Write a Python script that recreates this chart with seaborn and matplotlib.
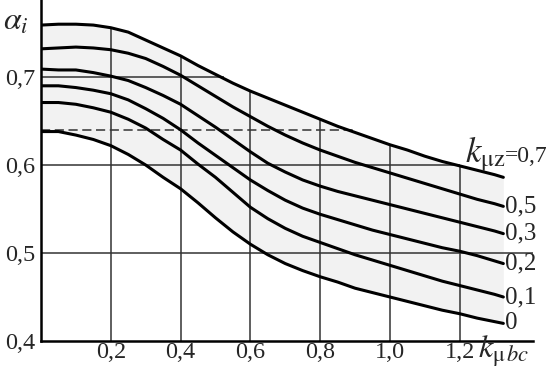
import numpy as np
import pandas as pd
import matplotlib.pyplot as plt
import seaborn as sns

# k_mu_bc values where the curves were read
k_bc = [0, 0.05, 0.1, 0.15, 0.2, 0.25, 0.3, 0.35, 0.4, 0.45, 0.5, 0.55, 0.6, 0.65,
        0.7, 0.75, 0.8, 0.85, 0.9, 0.95, 1.0, 1.05, 1.1, 1.15, 1.2, 1.25, 1.3, 1.325]

# alpha_i for each k_mu_z
alpha_07 = [0.759, 0.760, 0.760, 0.759, 0.756, 0.751, 0.742, 0.733, 0.724, 0.713, 0.703, 0.693, 0.684, 0.676,
            0.668, 0.660, 0.652, 0.644, 0.637, 0.630, 0.623, 0.617, 0.610, 0.604, 0.599, 0.594, 0.589, 0.586]
alpha_05 = [0.732, 0.733, 0.734, 0.733, 0.731, 0.727, 0.721, 0.712, 0.702, 0.690, 0.678, 0.666, 0.655, 0.644,
            0.634, 0.625, 0.617, 0.610, 0.603, 0.597, 0.591, 0.585, 0.579, 0.573, 0.567, 0.561, 0.556, 0.553]
alpha_03 = [0.709, 0.708, 0.708, 0.705, 0.701, 0.696, 0.688, 0.679, 0.669, 0.656, 0.643, 0.629, 0.615, 0.602,
            0.592, 0.583, 0.576, 0.570, 0.565, 0.560, 0.555, 0.550, 0.545, 0.540, 0.535, 0.530, 0.525, 0.522]
alpha_02 = [0.690, 0.690, 0.688, 0.685, 0.681, 0.674, 0.664, 0.653, 0.640, 0.625, 0.611, 0.597, 0.583, 0.571,
            0.560, 0.551, 0.544, 0.538, 0.532, 0.526, 0.521, 0.516, 0.511, 0.506, 0.502, 0.497, 0.491, 0.488]
alpha_01 = [0.671, 0.671, 0.669, 0.665, 0.660, 0.652, 0.642, 0.629, 0.617, 0.601, 0.586, 0.569, 0.552, 0.539,
            0.528, 0.519, 0.512, 0.505, 0.498, 0.492, 0.486, 0.480, 0.474, 0.468, 0.463, 0.458, 0.453, 0.450]
alpha_00 = [0.638, 0.638, 0.634, 0.629, 0.622, 0.612, 0.600, 0.586, 0.573, 0.557, 0.540, 0.524, 0.510, 0.498,
            0.488, 0.480, 0.473, 0.467, 0.460, 0.455, 0.450, 0.445, 0.440, 0.435, 0.431, 0.426, 0.422, 0.420]

curve_labels = ["0,7", "0,5", "0,3", "0,2", "0,1", "0"]
curves = [alpha_07, alpha_05, alpha_03, alpha_02, alpha_01, alpha_00]

x_ticks = [0.2, 0.4, 0.6, 0.8, 1.0, 1.2]
x_ticklabels = ["0,2", "0,4", "0,6", "0,8", "1,0", "1,2"]
y_ticks = [0.4, 0.5, 0.6, 0.7]
y_ticklabels = ["0,4", "0,5", "0,6", "0,7"]
dashed_level = 0.64

rows = []
for lab, vals in zip(curve_labels, curves):
    for x, y in zip(k_bc, vals):
        rows.append({"k_bc": x, "alpha": y, "k_z": lab})
df = pd.DataFrame(rows)

sns.set_style("white")
plt.rcParams['font.family'] = ['Liberation Serif', 'DejaVu Serif']
plt.rcParams['mathtext.fontset'] = 'stix'

fig = plt.figure(figsize=(5.48, 3.74), dpi=100)
ax = fig.add_axes([41 / 548, 33 / 374, 492 / 548, 341 / 374])

x_max = 1.41
y_min = 0.4
y_max = 0.4 + 341 / 880
ax.set_xlim(0, x_max)
ax.set_ylim(y_min, y_max)

# light shading of the scanned region between the curves
ax.fill_between(k_bc, alpha_00, alpha_07, color='#f2f2f2', zorder=0, lw=0)

# grid: bounded by the top curve
grid_kw = dict(color='#333333', lw=1.1, zorder=1)
for xt in x_ticks:
    ax.vlines(xt, y_min, np.interp(xt, k_bc, alpha_07), **grid_kw)
rev_x = k_bc[::-1]
rev_y = alpha_07[::-1]
for yt in [0.6, 0.7]:
    ax.hlines(yt, 0, np.interp(yt, rev_y, rev_x) + 0.01, **grid_kw)
ax.hlines(0.5, 0, x_max, **grid_kw)
ax.hlines(dashed_level, 0, 0.9, color='#333333', lw=1.1, linestyles=(0, (6, 3)), zorder=1)

sns.lineplot(data=df, x="k_bc", y="alpha", hue="k_z", palette=["black"] * 6,
             lw=2.2, legend=False, sort=True, estimator=None, ax=ax, zorder=3,
             solid_joinstyle='round', solid_capstyle='round')

# curve labels
for lab, vals in zip(curve_labels[1:], curves[1:]):
    ax.text(k_bc[-1] + 0.006, vals[-1], lab, fontsize=18, va='center', ha='left')
ax.text(1.33, 0.603, r'$k_{\mathrm{\mu z}}$', fontsize=25, va='baseline', ha='right')
ax.text(1.33, 0.603, '=0,7', fontsize=17, va='baseline', ha='left')

ax.set_xticks(x_ticks)
ax.set_xticklabels(x_ticklabels, fontsize=17.5)
ax.set_yticks(y_ticks)
ax.set_yticklabels(y_ticklabels, fontsize=17.5)
ax.tick_params(length=0, pad=4)
ax.tick_params(axis='x', pad=1)
ax.set_xlabel("")
ax.set_ylabel("")

for s in ['top', 'right']:
    ax.spines[s].set_visible(False)
for s in ['left', 'bottom']:
    ax.spines[s].set_color('black')
    ax.spines[s].set_linewidth(1.8)

ax.text(-0.11, 0.762, r'$\alpha_i$', fontsize=23, va='center', ha='left')
ax.text(1.252, 0.381, r'$k_{\mathrm{\mu}\,bc}$', fontsize=23, va='baseline', ha='left')

fig.savefig("out.png", dpi=100)
